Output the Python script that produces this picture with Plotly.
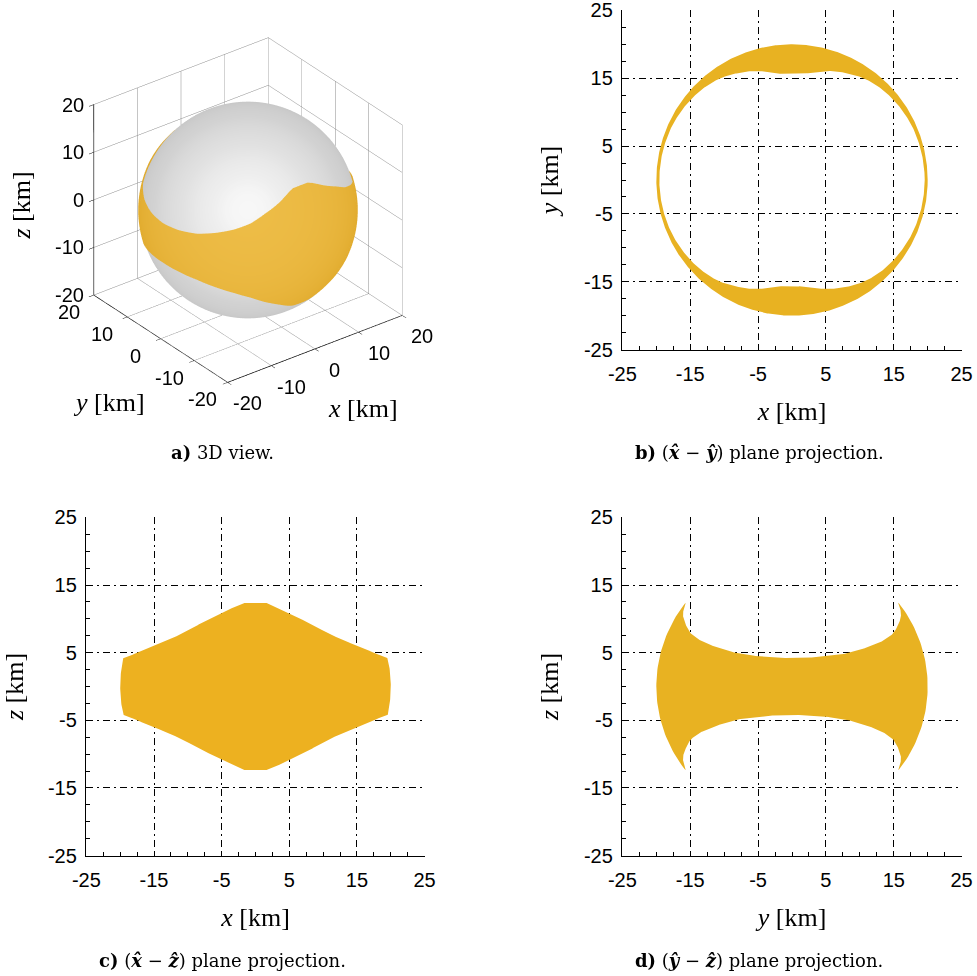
import numpy as np
import plotly.graph_objects as go

# ---------------- data ----------------
R = 20.0  # body radius [km]
# half-height z [km] of the band edge versus longitude from +x axis (deg), 0..90, mirrored by symmetry
band_lon_deg = [0, 12, 24, 35, 45, 54, 62.6, 68, 72.4, 77, 80.5, 84, 90]
band_edge_z = [4.15, 4.35, 4.85, 5.75, 6.7, 7.8, 9.3, 10.1, 10.76, 11.5, 12.0, 12.35, 12.4]

tick_vals_2d = [-25, -15, -5, 5, 15, 25]
tick_text_2d = ["-25", "-15", "-5", "5", "15", "25"]
tick_vals_3d = [-20, -10, 0, 10, 20]
tick_text_3d = ["-20", "-10", "0", "10", "20"]

GOLD = "#EDB120"
GOLD_B = "#E8B222"
SERIF = "Liberation Serif"
CAP_SERIF = "DejaVu Serif"
SANS = "Liberation Sans"


def edge_h(phi_deg):
    p = np.mod(np.asarray(phi_deg, dtype=float), 180.0)
    p = np.where(p > 90, 180 - p, p)
    return np.interp(p, band_lon_deg, band_edge_z)


fig = go.Figure()

# ---------------- panel a: 3D view ----------------
eye_dir = np.array([-0.527, -0.687, 0.5])
cam = eye_dir / np.linalg.norm(eye_dir)

lon = np.linspace(0, 2 * np.pi, 241)
lat = np.linspace(-np.pi / 2, np.pi / 2, 121)
LON, LAT = np.meshgrid(lon, lat)
SX, SY, SZ = np.cos(LAT) * np.cos(LON), np.cos(LAT) * np.sin(LON), np.sin(LAT)
shade = np.clip(SX * cam[0] + SY * cam[1] + SZ * cam[2], 0, 1)
flat = dict(ambient=1.0, diffuse=0.0, specular=0.0, roughness=1.0, fresnel=0.0)
Rs = R * 0.985
fig.add_trace(go.Surface(
    x=Rs * SX, y=Rs * SY, z=Rs * SZ, surfacecolor=shade, cmin=0, cmax=1,
    colorscale=[[0, "#C6C6C6"], [0.5, "#D2D2D2"], [0.8, "#E1E1E1"], [0.95, "#EEEEEE"], [1, "#F7F7F7"]],
    showscale=False, lighting=flat, hoverinfo="skip", scene="scene"))

blon = np.linspace(0, 360, 721)
t = np.linspace(-1, 1, 31)
BL, T = np.meshgrid(blon, t)
BLAT = T * np.arcsin(edge_h(BL) / R)
BX, BY, BZ = np.cos(BLAT) * np.cos(np.radians(BL)), np.cos(BLAT) * np.sin(np.radians(BL)), np.sin(BLAT)
bshade = np.clip(BX * cam[0] + BY * cam[1] + BZ * cam[2], 0, 1)
Rb = R * 0.998
fig.add_trace(go.Surface(
    x=Rb * BX, y=Rb * BY, z=Rb * BZ, surfacecolor=bshade, cmin=0, cmax=1,
    colorscale=[[0, "#E0AA2C"], [0.6, "#E8B53C"], [1, "#EDBC46"]],
    showscale=False, lighting=flat, hoverinfo="skip", scene="scene"))

# ---------------- panel b: x-y projection ----------------
th = np.linspace(0, 360, 721)
r_in = np.sqrt(R ** 2 - edge_h(th) ** 2)
xb = np.concatenate([R * np.cos(np.radians(th)), r_in[::-1] * np.cos(np.radians(th[::-1]))])
yb = np.concatenate([R * np.sin(np.radians(th)), r_in[::-1] * np.sin(np.radians(th[::-1]))])
fig.add_trace(go.Scatter(x=xb, y=yb, fill="toself", fillcolor=GOLD_B, mode="lines",
                         line=dict(width=0, color=GOLD_B), hoverinfo="skip",
                         xaxis="x", yaxis="y", showlegend=False))

# ---------------- panel c: x-z projection ----------------
h0 = edge_h(0.0)
zs = np.linspace(-h0, h0, 41)
phi = np.linspace(0, 180, 721)
hp = edge_h(phi)
rho = np.sqrt(R ** 2 - hp ** 2)
xc = np.concatenate([np.sqrt(R ** 2 - zs ** 2), rho * np.cos(np.radians(phi)),
                     -np.sqrt(R ** 2 - zs[::-1] ** 2), (rho * np.cos(np.radians(phi)))[::-1]])
zc = np.concatenate([zs, hp, zs[::-1], -hp[::-1]])
fig.add_trace(go.Scatter(x=xc, y=zc, fill="toself", fillcolor=GOLD, mode="lines",
                         line=dict(width=0, color=GOLD), hoverinfo="skip",
                         xaxis="x2", yaxis="y2", showlegend=False))

# ---------------- panel d: y-z projection ----------------
h90 = edge_h(90.0)
zs2 = np.linspace(-h90, h90, 61)
phi2 = np.linspace(90, -90, 721)
hp2 = edge_h(phi2)
rho2 = np.sqrt(R ** 2 - hp2 ** 2)
yd = np.concatenate([np.sqrt(R ** 2 - zs2 ** 2), rho2 * np.sin(np.radians(phi2)),
                     -np.sqrt(R ** 2 - zs2[::-1] ** 2), (rho2 * np.sin(np.radians(phi2)))[::-1]])
zd = np.concatenate([zs2, hp2, zs2[::-1], -hp2[::-1]])
fig.add_trace(go.Scatter(x=yd, y=zd, fill="toself", fillcolor=GOLD_B, mode="lines",
                         line=dict(width=0, color=GOLD_B), hoverinfo="skip",
                         xaxis="x3", yaxis="y3", showlegend=False))


# ---------------- layout ----------------
def px_x(p):
    return p / 977.0


def px_y(p):
    return 1 - p / 976.0


def ax2d(dom, title, anchor, standoff, lab_off):
    return dict(domain=dom, range=[-25.06, 25.06], tickvals=tick_vals_2d, ticktext=tick_text_2d,
                ticks="inside", ticklen=5, tickcolor="black", tickwidth=1,
                minor=dict(ticks="inside", tickvals=list(np.arange(-25, 25.1, 2.5)), ticklen=4,
                           tickcolor="black", showgrid=False),
                showline=True, linecolor="black", linewidth=1.3, mirror=False,
                showgrid=True, gridcolor="black", gridwidth=1, griddash="7px,4px,2px,4px",
                zeroline=False, tickfont=dict(family=SANS, size=20, color="black"),
                ticklabeloverflow="allow", ticklabelstandoff=lab_off,
                title=dict(text=title, font=dict(family=SERIF, size=26, color="black"), standoff=standoff),
                automargin=False, anchor=anchor, fixedrange=True)


bx = [px_x(622), px_x(962)]
by = [px_y(350), px_y(10)]
cx = [px_x(86), px_x(425)]
cy = [px_y(856), px_y(517)]
dx = [px_x(622), px_x(962)]
dy = cy

ax3 = dict(range=[-20, 20], tickvals=tick_vals_3d, showticklabels=False, showbackground=False,
           showgrid=True, gridcolor="#8a8a8a", gridwidth=1, showline=True, linecolor="black",
           linewidth=1.5, ticks="outside", tickcolor="black", ticklen=6, zeroline=False,
           showspikes=False, title=dict(text=""))

eye = cam * 1.76

tfont = dict(family=SANS, size=20, color="black")
afont = dict(family=SERIF, size=26, color="black")
scene_ann = []
for v, s in zip(tick_vals_3d, tick_text_3d):
    scene_ann.append(dict(x=-20, y=20, z=v, text=s, showarrow=False, xanchor="right",
                          xshift=-8, font=tfont))
    scene_ann.append(dict(x=v, y=-20, z=-20, text=s, showarrow=False, xshift=20, yshift=-21,
                          font=tfont))
    scene_ann.append(dict(x=-20, y=v, z=-20, text=s, showarrow=False, xshift=-25, yshift=-17,
                          font=tfont))
scene_ann += [
    dict(x=-20, y=20, z=0, text="<i>z</i> [km]", textangle=-90, showarrow=False, xshift=-72, yshift=-6,
         font=afont),
    dict(x=0, y=-20, z=-20, text="<i>x</i> [km]", showarrow=False, xshift=48, yshift=-60, font=afont),
    dict(x=-20, y=0, z=-20, text="<i>y</i> [km]", showarrow=False, xshift=-52, yshift=-64, font=afont),
]

cfont = dict(family=CAP_SERIF, size=18, color="black")


def caption(text, cxp, cyp):
    return dict(text=text, x=px_x(cxp), y=px_y(cyp), xref="paper", yref="paper", xanchor="center",
                yanchor="middle", showarrow=False, font=cfont)


fig.update_layout(
    width=977, height=976, margin=dict(l=0, r=0, t=0, b=0, autoexpand=False),
    paper_bgcolor="white", plot_bgcolor="white", showlegend=False,
    xaxis=ax2d(bx, "<i>x</i> [km]", "y", 17, 6), yaxis=ax2d(by, "<i>y</i> [km]", "x", 17, 4),
    xaxis2=ax2d(cx, "<i>x</i> [km]", "y2", 17, 6), yaxis2=ax2d(cy, "<i>z</i> [km]", "x2", 17, 4),
    xaxis3=ax2d(dx, "<i>y</i> [km]", "y3", 17, 6), yaxis3=ax2d(dy, "<i>z</i> [km]", "x3", 17, 4),
    scene=dict(
        domain=dict(x=[0, px_x(496)], y=[px_y(410), px_y(10)]),
        aspectmode="manual", aspectratio=dict(x=1.1, y=1.1, z=1.1),
        xaxis=ax3, yaxis=ax3, zaxis=ax3,
        camera=dict(eye=dict(x=eye[0], y=eye[1], z=eye[2]), up=dict(x=0, y=0, z=1),
                    center=dict(x=0, y=0, z=0), projection=dict(type="orthographic")),
        bgcolor="white",
        annotations=scene_ann,
        dragmode=False,
    ),
    annotations=[
        caption("<b>a)</b> 3D view.", 222, 452),
        caption("<b>b)</b> (<b><i>x̂</i></b> − <b><i>ŷ</i></b>) plane projection.", 759, 452),
        caption("<b>c)</b> (<b><i>x̂</i></b> − <b><i>ẑ</i></b>) plane projection.", 222, 960),
        caption("<b>d)</b> (<b><i>ŷ</i></b> − <b><i>ẑ</i></b>) plane projection.", 759, 960),
    ],
)

fig.write_html("out.html")
